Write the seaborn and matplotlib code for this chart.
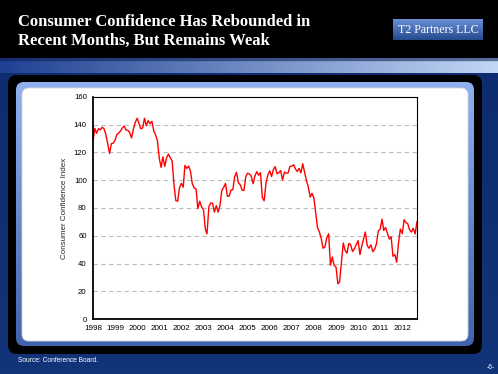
import numpy as np
import pandas as pd
import matplotlib
matplotlib.use("Agg")
import matplotlib.pyplot as plt
import matplotlib.dates as mdates
from matplotlib.patches import FancyBboxPatch
from matplotlib.colors import LinearSegmentedColormap
import seaborn as sns

# ---------------- data (monthly index, Jan 1998 - Sep 2012) ----------------
cci_1998 = [128.3, 137.4, 133.8, 137.2, 136.3, 138.2, 137.2, 133.1, 126.4, 119.3, 126.4, 126.7]
cci_1999 = [128.9, 133.1, 134.0, 135.5, 137.7, 139.0, 136.2, 136.0, 134.2, 130.5, 137.0, 141.7]
cci_2000 = [144.7, 140.8, 137.1, 137.7, 144.7, 139.2, 143.0, 140.8, 142.5, 135.8, 132.6, 128.6]
cci_2001 = [115.7, 109.2, 116.9, 109.9, 116.1, 118.9, 116.3, 114.0, 97.0, 85.3, 84.9, 94.6]
cci_2002 = [97.8, 95.0, 110.7, 108.5, 110.3, 106.3, 97.4, 94.5, 93.7, 79.6, 84.9, 80.7]
cci_2003 = [78.8, 64.8, 61.4, 81.0, 83.6, 83.5, 77.0, 81.7, 77.0, 81.7, 92.5, 94.8]
cci_2004 = [97.7, 88.5, 88.5, 93.0, 93.1, 102.8, 105.7, 98.2, 96.7, 92.9, 92.6, 102.7]
cci_2005 = [105.1, 104.4, 103.0, 97.5, 103.1, 106.2, 103.6, 105.5, 87.5, 85.2, 98.3, 103.8]
cci_2006 = [106.8, 102.7, 107.5, 109.8, 104.7, 105.4, 107.0, 100.2, 105.9, 105.1, 105.3, 110.0]
cci_2007 = [110.2, 111.2, 108.2, 106.3, 108.5, 105.3, 111.9, 105.6, 99.5, 95.2, 87.8, 90.6]
cci_2008 = [87.3, 76.4, 65.9, 62.8, 58.1, 51.0, 51.9, 58.5, 61.4, 38.8, 44.7, 38.6]
cci_2009 = [37.4, 25.3, 26.9, 40.8, 54.8, 49.3, 47.4, 54.5, 53.4, 48.7, 50.6, 53.6]
cci_2010 = [56.5, 46.4, 52.3, 57.7, 62.7, 52.9, 51.0, 53.5, 48.5, 50.2, 54.3, 63.4]
cci_2011 = [64.8, 72.0, 63.8, 66.0, 61.7, 57.6, 59.2, 45.2, 46.4, 40.9, 55.2, 64.8]
cci_2012 = [61.5, 71.6, 69.5, 68.7, 64.4, 62.7, 65.4, 61.3, 70.3]

start_month = "1998-01-01"
year_labels = [str(y) for y in range(1998, 2013)]
y_ticks = [0, 20, 40, 60, 80, 100, 120, 140, 160]

title_line1 = "Consumer Confidence Has Rebounded in"
title_line2 = "Recent Months, But Remains Weak"
badge_text = "T2 Partners LLC"
ylabel_text = "Consumer Confidence Index"
source_text = "Source: Conference Board."
page_text = "-6-"

values = (cci_1998 + cci_1999 + cci_2000 + cci_2001 + cci_2002 + cci_2003 + cci_2004
          + cci_2005 + cci_2006 + cci_2007 + cci_2008 + cci_2009 + cci_2010 + cci_2011 + cci_2012)
df = pd.DataFrame({"date": pd.date_range(start_month, periods=len(values), freq="MS"),
                   "index": values})

# ---------------- figure & slide background ----------------
W, H = 498, 374
fig = plt.figure(figsize=(W / 100, H / 100), dpi=100)

bg = fig.add_axes([0, 0, 1, 1])
bg.set_xlim(0, W)
bg.set_ylim(H, 0)
bg.axis("off")

def grad_img(ax, extent, c1, c2, horizontal=True, clip=None, z=1, n=256):
    cmap = LinearSegmentedColormap.from_list("g", [c1, c2])
    g = np.linspace(0, 1, n)
    arr = g[None, :] if horizontal else g[:, None]
    im = ax.imshow(arr, cmap=cmap, extent=extent, aspect="auto", zorder=z,
                   interpolation="bilinear")
    if clip is not None:
        im.set_clip_path(clip)
    return im

# dark navy body
grad_img(bg, (0, W, H, 0), "#0e2a6e", "#123478", horizontal=False, z=0)
# black header
bg.add_patch(plt.Rectangle((0, 0), W, 58, color="black", zorder=1))
# light blue band
band = plt.Rectangle((0, 58), W, 15, color="none", zorder=1)
bg.add_patch(band)
grad_img(bg, (0, W, 73, 58), "#1f4192", "#c2d6f5", horizontal=True, clip=band, z=1)
bg.add_patch(plt.Rectangle((0, 58), W, 2, color="#0b1f55", alpha=0.45, zorder=2))

# black outer frame
bg.add_patch(FancyBboxPatch((12, 79), 466, 271, boxstyle="round,pad=4,rounding_size=9",
                            fc="black", ec="none", zorder=3))
# blue frame
blue_frame = FancyBboxPatch((19, 85), 452, 258, boxstyle="round,pad=3,rounding_size=8",
                            fc="none", ec="none", zorder=4)
bg.add_patch(blue_frame)
grad_img(bg, (16, 474, 346, 82), "#8fb2ee", "#3f63ad", horizontal=False, clip=blue_frame, z=4)
# white panel
bg.add_patch(FancyBboxPatch((25, 91), 440, 247, boxstyle="round,pad=3,rounding_size=7",
                            fc="white", ec="#d8d8d8", lw=0.6, zorder=5))

# badge
badge = FancyBboxPatch((393, 19), 90, 21, boxstyle="square,pad=0", fc="none", ec="none", zorder=3)
bg.add_patch(badge)
grad_img(bg, (393, 483, 40, 19), "#6a91d6", "#24498f", horizontal=False, clip=badge, z=3)
bg.text(438, 30, badge_text, color="white", fontsize=8.6, family="Liberation Serif",
        ha="center", va="center", zorder=6)

# title
bg.text(18, 26, title_line1, color="white", fontsize=12, family="Liberation Serif",
        fontweight="bold", ha="left", va="baseline", zorder=6)
bg.text(18, 45, title_line2, color="white", fontsize=12, family="Liberation Serif",
        fontweight="bold", ha="left", va="baseline", zorder=6)
# footer
bg.text(18, 362, source_text, color="white", fontsize=4.8, family="Liberation Sans",
        ha="left", va="baseline", zorder=6)
bg.text(495, 369, page_text, color="white", fontsize=4.8, family="Liberation Sans",
        ha="right", va="baseline", zorder=6)

# ---------------- chart ----------------
sns.set_style("white")
plt.rcParams["font.family"] = ["Liberation Sans", "DejaVu Sans"]

ax = fig.add_axes([93 / W, 1 - 319 / H, 324 / W, 222 / H])
ax.set_zorder(10)
sns.lineplot(data=df, x="date", y="index", ax=ax, color="#ff0000", linewidth=1.0)

ax.set_ylim(0, 160)
ax.set_xlim(df["date"].iloc[0], df["date"].iloc[-1])
ax.set_yticks(y_ticks)
ax.set_yticklabels([str(t) for t in y_ticks], fontsize=5.6, family="Liberation Sans")
ax.xaxis.set_major_locator(mdates.YearLocator())
ax.set_xticks(ax.get_xticks())
ax.set_xticklabels(year_labels[:len(ax.get_xticks())], fontsize=5.8, family="Liberation Sans")
ax.set_xlabel("")
ax.set_ylabel(ylabel_text, fontsize=5.8, family="Liberation Sans", labelpad=4)

for t in y_ticks[1:-1]:
    ax.axhline(t, color="#bdbdbd", lw=0.8, ls=(0, (4, 3)), zorder=0)

ax.tick_params(axis="both", direction="out", length=2.5, width=0.8, pad=2, colors="black")
for side in ["left", "bottom"]:
    ax.spines[side].set_linewidth(1.3)
    ax.spines[side].set_color("black")
for side in ["top", "right"]:
    ax.spines[side].set_visible(True)
    ax.spines[side].set_linewidth(0.8)
    ax.spines[side].set_color("black")

fig.savefig("out.png", dpi=100)
